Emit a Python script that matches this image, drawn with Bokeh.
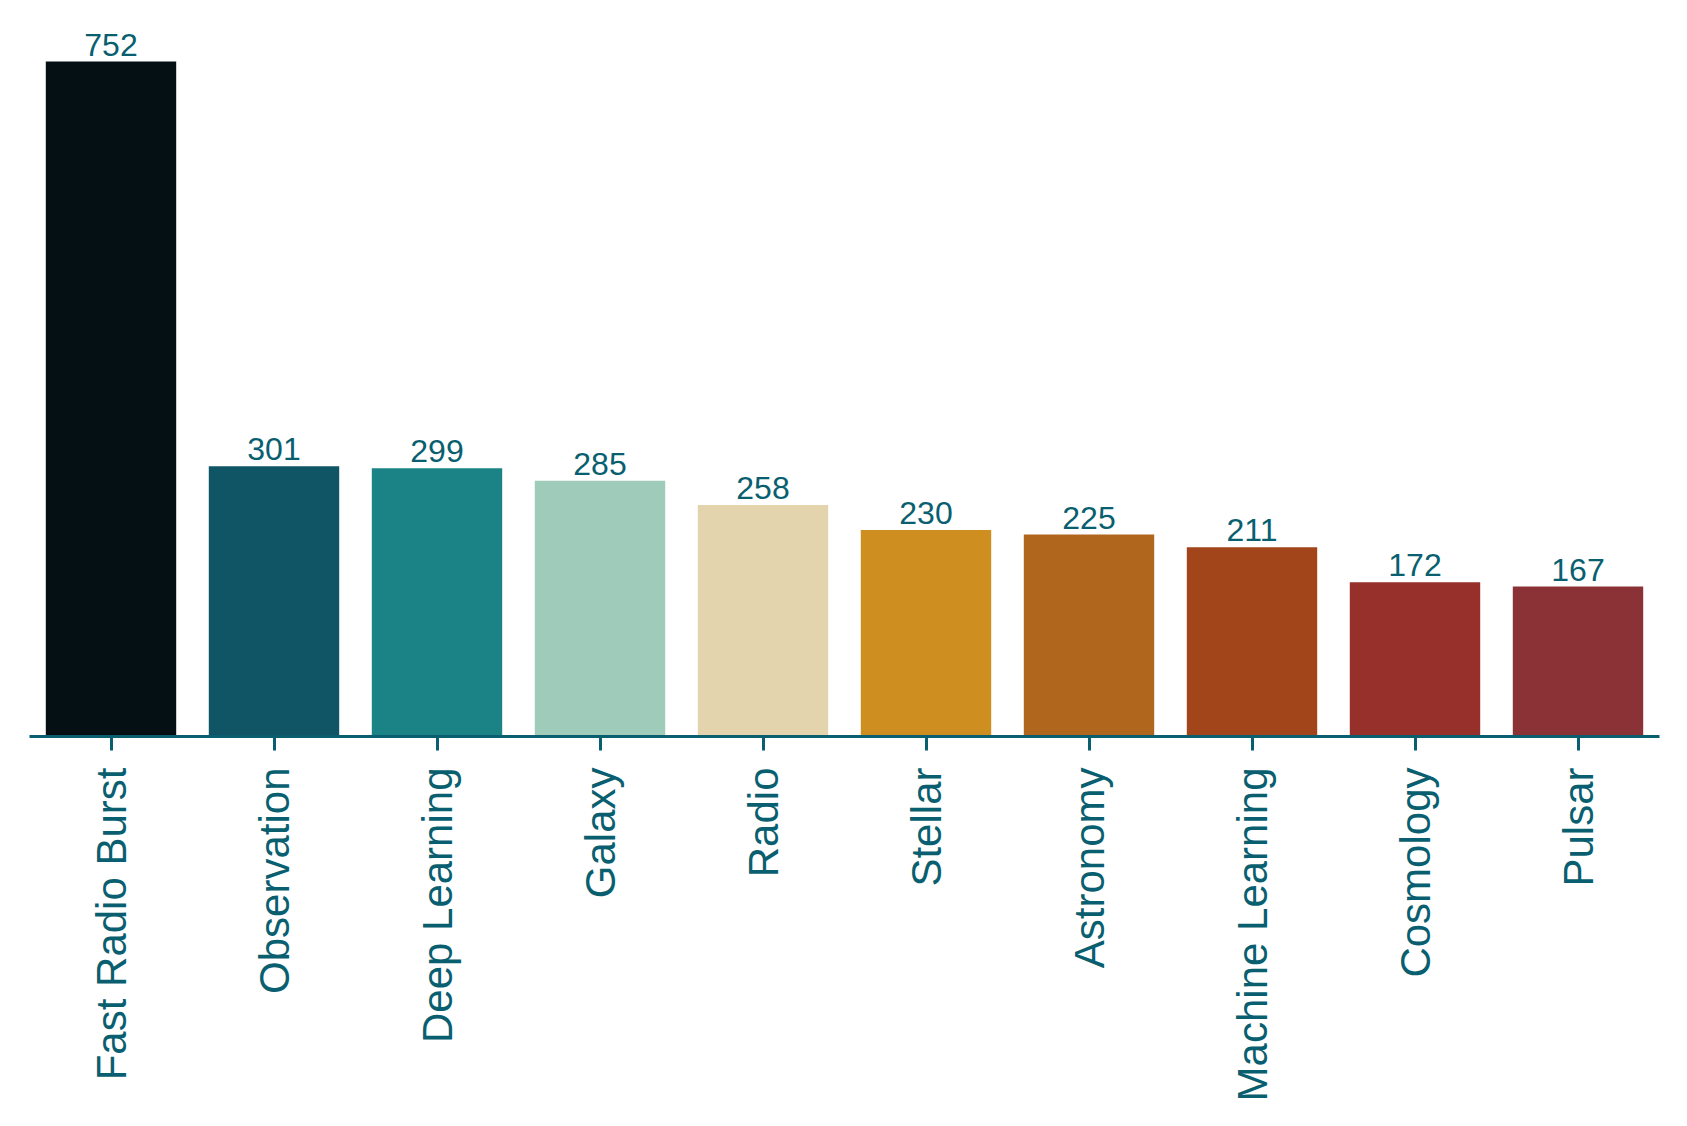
from bokeh.plotting import figure
from bokeh.models import ColumnDataSource, Range1d, FactorRange
from bokeh.core.properties import value
from bokeh.embed import file_html
from bokeh.resources import INLINE
import math

categories = ["Fast Radio Burst", "Observation", "Deep Learning", "Galaxy", "Radio",
              "Stellar", "Astronomy", "Machine Learning", "Cosmology", "Pulsar"]
counts = [752, 301, 299, 285, 258, 230, 225, 211, 172, 167]
bar_colors = ["#051014", "#0f5565", "#1b8385", "#9fcbbb", "#e3d4ae",
              "#cf8f20", "#b0661d", "#a2451a", "#97302a", "#8b3236"]

TEAL = "#095f70"
FONT = "Liberation Sans"

source = ColumnDataSource(dict(cat=categories, val=counts, color=bar_colors,
                               label=[str(v) for v in counts]))

p = figure(width=1679, height=1118, output_backend="svg", toolbar_location=None,
           x_range=FactorRange(factors=categories, range_padding=0),
           y_range=Range1d(0, 800), y_axis_location=None,
           min_border_left=29, min_border_right=20, min_border_top=18,
           min_border_bottom=382)

p.vbar(x="cat", top="val", bottom=0, width=0.8, fill_color="color",
       line_color=None, source=source)
p.text(x="cat", y="val", text="label", source=source, text_align="center",
       text_baseline="bottom", y_offset=-6, text_color=TEAL,
       text_font=value(FONT), text_font_size="32px")

p.xgrid.grid_line_color = None
p.ygrid.grid_line_color = None
p.outline_line_color = None
p.background_fill_color = "white"
p.border_fill_color = "white"

ax = p.xaxis[0]
ax.axis_line_color = TEAL
ax.axis_line_width = 3
ax.major_tick_line_color = TEAL
ax.major_tick_line_width = 3
ax.major_tick_out = 14
ax.major_tick_in = 0
ax.minor_tick_line_color = None
ax.major_label_orientation = math.pi / 2
ax.major_label_standoff = 17
ax.major_label_text_font = FONT
ax.major_label_text_font_size = "42px"
ax.major_label_text_color = TEAL

open("out.html", "w").write(file_html(p, INLINE))
